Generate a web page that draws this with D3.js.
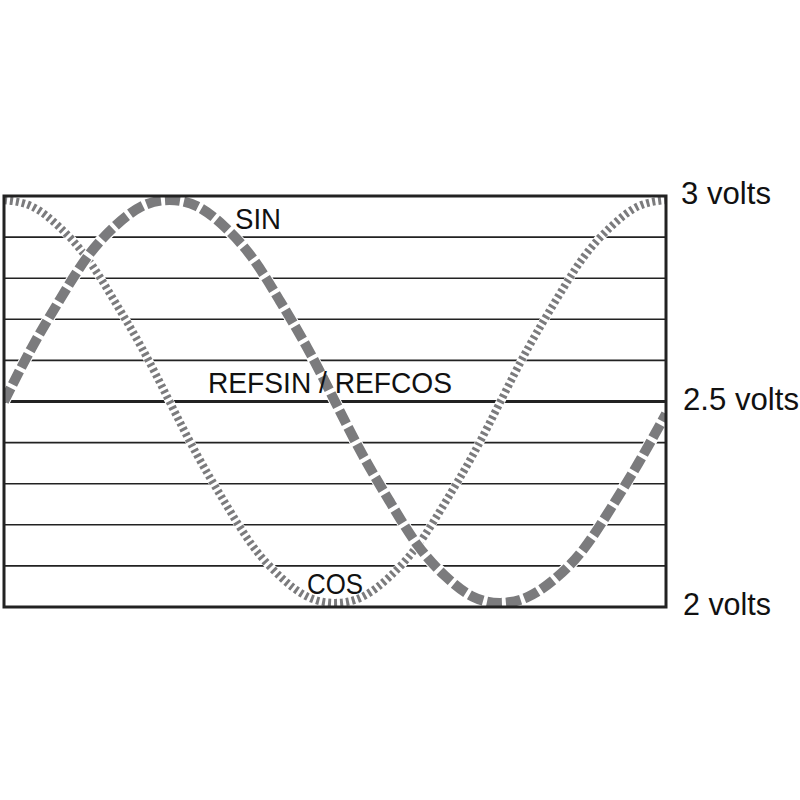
<!DOCTYPE html>
<html>
<head>
<meta charset="utf-8">
<script src="https://cdn.jsdelivr.net/npm/d3@7/dist/d3.min.js"></script>
<style>
  html, body { margin: 0; padding: 0; background: #fff; }
  svg { display: block; }
  text { font-family: "Liberation Sans", Arial, sans-serif; fill: #111; }
</style>
</head>
<body>
<script>
// Phase angle (degrees) across the box
const angles = [0,15,30,45,60,75,90,105,120,135,150,165,180,195,210,225,240,255,270,285,300,315,330,345,360];
// SIN signal (volts)
const sinValues = [2.50,2.63,2.745,2.85,2.925,2.975,2.99,2.975,2.925,2.85,2.745,2.63,2.50,2.37,2.255,2.15,2.075,2.025,2.01,2.025,2.07,2.14,2.24,2.35,2.47];
// COS signal (volts)
const cosValues = [2.99,2.975,2.925,2.85,2.745,2.63,2.50,2.37,2.255,2.15,2.075,2.025,2.01,2.025,2.075,2.15,2.255,2.37,2.50,2.63,2.745,2.85,2.925,2.975,2.99];
// Horizontal grid levels (volts)
const gridLevels = [2.0,2.1,2.2,2.3,2.4,2.5,2.6,2.7,2.8,2.9,3.0];
// Voltage labels
const voltTicks = [3, 2.5, 2];
const voltLabels = ["3 volts", "2.5 volts", "2 volts"];

(function () {
const W = 800, H = 800;
const bx0 = 4, bx1 = 666, by0 = 196, by1 = 607;

const svg = d3.select("body").append("svg").attr("width", W).attr("height", H);

const x = d3.scaleLinear().domain([0, 360]).range([bx0, bx1]);
const y = d3.scaleLinear().domain([2, 3]).range([by1, by0]);

// grid lines
svg.append("g").selectAll("line").data(gridLevels).join("line")
  .attr("x1", bx0).attr("x2", bx1)
  .attr("y1", d => y(d)).attr("y2", d => y(d))
  .attr("stroke", "#222")
  .attr("stroke-width", d => (Math.abs(d - 2.5) < 1e-9) ? 3 : 1.6);

const line = d3.line().x(d => x(d[0])).y(d => y(d[1])).curve(d3.curveNatural);
const cosData = angles.map((a, i) => [a, cosValues[i]]);
const sinData = angles.map((a, i) => [a, sinValues[i]]);

svg.append("defs").append("clipPath").attr("id", "box")
  .append("rect").attr("x", bx0).attr("y", by0 - 2).attr("width", bx1 - bx0).attr("height", by1 - by0 + 4);

const curves = svg.append("g").attr("clip-path", "url(#box)");

// white underlays
curves.append("path").attr("d", line(cosData)).attr("fill", "none")
  .attr("stroke", "#fff").attr("stroke-width", 9);
curves.append("path").attr("d", line(cosData)).attr("fill", "none")
  .attr("stroke", "#7b7b7d").attr("stroke-width", 8)
  .attr("stroke-dasharray", "3,3");

curves.append("path").attr("d", line(sinData)).attr("fill", "none")
  .attr("stroke", "#fff").attr("stroke-width", 12);
curves.append("path").attr("d", line(sinData)).attr("fill", "none")
  .attr("stroke", "#7b7b7d").attr("stroke-width", 10)
  .attr("stroke-dasharray", "15,4");

// outer border
svg.append("rect")
  .attr("x", bx0).attr("y", by0)
  .attr("width", bx1 - bx0).attr("height", by1 - by0)
  .attr("fill", "none").attr("stroke", "#222").attr("stroke-width", 3);

// curve labels
svg.append("text").attr("x", 235).attr("y", 229).attr("font-size", 30)
  .attr("textLength", 46).attr("lengthAdjust", "spacingAndGlyphs").text("SIN");
svg.append("text").attr("x", 208).attr("y", 393).attr("font-size", 30)
  .attr("textLength", 244).attr("lengthAdjust", "spacingAndGlyphs").text("REFSIN / REFCOS");
svg.append("text").attr("x", 307).attr("y", 594).attr("font-size", 30)
  .attr("textLength", 56).attr("lengthAdjust", "spacingAndGlyphs").text("COS");

// volt labels
const voltLens = [90, 116, 88];
svg.append("g").selectAll("text").data(voltTicks).join("text")
  .attr("x", (d, i) => i === 0 ? 681 : 683)
  .attr("y", d => y(d) + 8)
  .attr("font-size", 31)
  .attr("textLength", (d, i) => voltLens[i])
  .attr("lengthAdjust", "spacingAndGlyphs")
  .text((d, i) => voltLabels[i]);
})();
</script>
</body>
</html>
